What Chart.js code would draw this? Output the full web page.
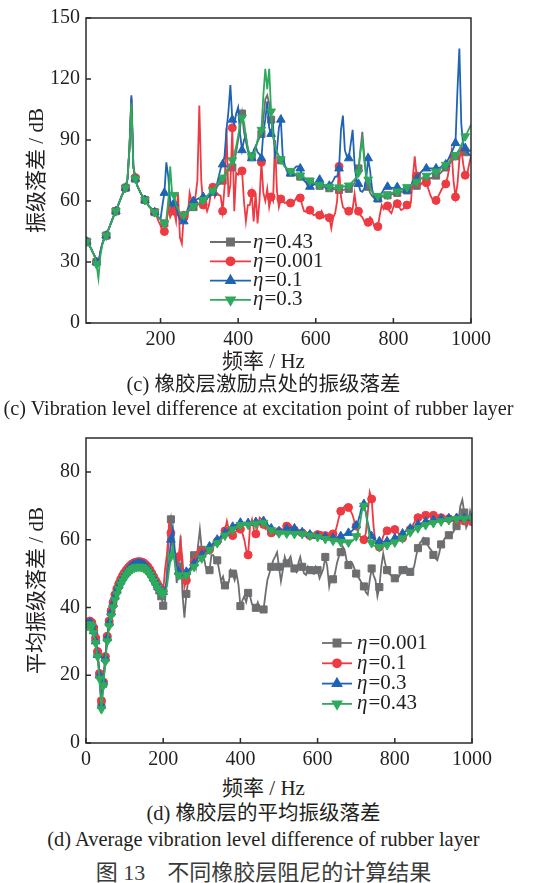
<!DOCTYPE html>
<html><head><meta charset="utf-8">
<script src="https://cdn.jsdelivr.net/npm/chart.js@4/dist/chart.umd.min.js"></script>
<style>
body{margin:0;background:#fff;width:551px;height:883px;position:relative;overflow:hidden;font-family:"Liberation Serif","Noto Sans CJK SC",serif;color:#231f20}
.box{position:absolute;left:0;width:551px}
.cap{position:absolute;left:-12px;width:551px;text-align:center;white-space:nowrap}
</style></head><body>
<div class="box" style="top:0;height:352px"><canvas id="c1"></canvas></div>
<div class="box" style="top:420px;height:352px"><canvas id="c2"></canvas></div>
<div class="cap" style="top:348px;font-size:21px;line-height:27px">频率 / Hz</div>
<div class="cap" style="top:371px;font-size:20.5px;line-height:27px">(c) 橡胶层激励点处的振级落差</div>
<div class="cap" style="top:395px;left:-17px;font-size:20.2px;line-height:26px">(c) Vibration level difference at excitation point of rubber layer</div>
<div class="cap" style="top:775px;font-size:21px;line-height:27px">频率 / Hz</div>
<div class="cap" style="top:800px;font-size:20.5px;line-height:27px">(d) 橡胶层的平均振级落差</div>
<div class="cap" style="top:826px;font-size:20.4px;line-height:26px">(d) Average vibration level difference of rubber layer</div>
<div class="cap" style="top:859px;font-size:22px;line-height:27px;color:#3a3a3a">图 13　不同橡胶层阻尼的计算结果</div>
<script>
// frequency grid (Hz), 5..1000
const freqHz = Array.from({length:200},(_,i)=>5*(i+1));

// tick labels
const topXTicks = [200,400,600,800,1000];
const topYTicks = [0,30,60,90,120,150];
const botXTicks = [0,200,400,600,800,1000];
const botYTicks = [0,20,40,60,80];

// (c) top chart series
const topEta043 = [
41,40,38.5,37,35,33,30,29,35,39,
41.5,43,45.5,48,50.5,53,55,57.5,60,62.5,
64.5,66.5,71,86,111,77,71,67.5,65.5,63.5,
62,60.5,59,57.5,56.5,55.5,54.5,53,52,51,
50,49,50,55,60,57,56,55,54,53,
52.5,52.5,53.5,54.5,55.5,56.5,57,57.5,58,58.5,
59,60,61,62,63,64,65,66,67,68,
69,70,72,74,75.5,76,76.5,79,84,90,
96,103,94,89,85,83,82,83,86,89,
91,93,100,110,112,108,100,92,87,84,
82,80,78.5,77,76,75,74,73.5,73,72.5,
72,72,71.5,71,70.5,70,69.5,69,68.5,68,
67.8,67.5,67.2,67,66.8,66.5,66.3,66,65.8,65.7,
65.6,65.5,65.5,65.5,65.6,65.8,66,66.5,67.5,69,
71,76,85,94,82,72,67,64,62.5,61.5,
61.3,61.2,61.5,62,62.3,62.5,62.8,63,63.2,63.5,
63.8,64,64.2,64.5,64.8,65,65.2,65.5,66,66.5,
67,67.5,68,68.5,69,69.5,70,70.5,71,71.5,
72,72.5,73,73.5,74.5,75.5,76.5,77.5,78.5,79.5,
80.5,82,83.5,84.5,84.5,84,84,84,84.5,85];
const topEta0001 = [
41,40,38.5,37,35,33,30,29.5,35,39,
41.5,43,45.5,48,50.5,53,55,57.5,60,62.5,
64.5,66.5,71,86,110,77,71.5,67.5,65.5,63.5,
62,60.5,59,57.5,56.5,55.5,54.5,52.5,50,48,
45,45,48,58,52,54,55,50,64,42,
39,53,50,52,64,60,59,62,70,107,
70,58,59,55,58,64,66.8,62,64,63,
62.5,55,67,96,62,68,96,55,74,73,
75,74.8,60,50,58,58,63.8,50,64,49,
60,79,64,60,66,57,62,60,90,65,
57,61,60,59,59.5,58.5,59,58.8,60,61.5,
62,61.5,58,55,54.7,55.5,55.5,54,53,53.5,
53,53,55,52,53,51.5,51.8,46.5,52,54,
60,77,62,57,56,55,55,55.5,56,63.5,
56,55,53,52,50,49.5,49.5,52,51,48,
47.5,47.4,53,58,56,57.5,57.6,55,54,57,
58.7,58.7,57,55.5,56,57,58,58.7,59,71,
82,72.4,67,68,69,69,69,66,63,61,
60.3,60.3,62,64,66,67,68.4,72,78,84.5,
70,62,68,80,86,78,72.7,73,78,82];
const topEta01 = [
41,40,38.5,37,35,33,30,28.5,35,39,
41.5,43,45.5,48,50.5,53,55,57.5,60,62.5,
64.5,66.5,71,86,112,77,71,67.5,65.5,63.5,
62,60.5,59,57.5,56.5,55.5,54.5,53,52,51,
58,64,79,72,60,57.5,59,57,53,51,
50,50,53,56,58,59.5,60,60.5,61,61.5,
62,62,62,61.5,62,63,64,65,68,72,
76,78,82,95,104,117,100,98,103,106,
93,85,90,92,85,82,81,85,87,84,
83,81,94,100,109,96,93,97,82,85,
96,100,82,78,75,74,73.5,74,76,77,
77,76,72,70,69,68,67,67.5,68,69,
70,70.5,69,68,67.5,67.5,67.5,68.5,70,72,
72,76,95,102,85,82,81,88,95,78,
70,68.4,65,64.5,66,71,81,75,66,62,
61,61,62,64,65.5,66.5,67,66.8,66.5,66.5,
66.5,66.8,66.2,66,65.8,65.2,65.2,66,67.5,69.5,
70.5,71,72.5,74,75,75.5,76,76,76,76,
76,76,76,76.5,77,77.5,78,80,82,84,
86,88.5,114,135,98,87,86,84,83,82];
const topEta03 = [
41,40,38.5,37,35,33,29,22,33,38.5,
41.5,43,45.5,48,50.5,53,55,57.5,60,62.5,
64.5,66.5,71,86,108,77,71,67.5,65.5,63.5,
62,60.5,59,57.5,56.5,55.5,54.5,53,52,51,
50,49,51,60,77,63,63,58,56,54.5,
53.5,53,54,55,56,57,57.5,58,58.5,59,
59.5,60.5,61.5,62.5,63.5,64.5,65,66.5,68,69.5,
70.5,71.5,73,75,76.5,78,80,83,87,92,
98,101,99,92,86,83,82,83,86,90,
93,95,112,125,115,125,104,92,87,84,
82,80.5,78.5,77,76,75,74.8,74,73.5,73,
72.5,72.5,72,71.5,71,70.5,70,69.5,69,68.5,
68.3,68,67.8,67.5,67.3,67,67,66.8,66.7,66.6,
66.6,66.7,66.8,67,67.2,67.4,67.6,68.5,69.5,70.5,
72,74,84,90,80,72,70.5,67,64.5,63,
62.5,62.5,62.6,62.7,62.7,62.8,63,63.5,64,64.3,
64.5,64.7,65,65.5,66,66.5,66.8,67.3,67.8,68.5,
69,69.5,70,70.8,71.5,72,72.4,72.8,73.3,73.7,
74,74.5,75,75.8,76.5,77.2,77.8,78.5,79.5,80.5,
81.5,82.5,84,85.5,87.5,89.5,91.8,93.5,95.5,97.5];

// (d) bottom chart series
const botEta0001 = [
35,35.5,35,33.5,30.5,26.5,20,12,17.5,25,
31,35.5,38.5,41,43.3,45,46.5,47.8,48.9,49.8,
50.6,51.3,51.9,52.4,52.7,52.9,53,53,52.9,52.6,
52.1,51.5,50.7,49.7,48.6,47.5,46.2,45,43.3,40.5,
42,52,62,66,60,55.4,47.2,52,61.2,43.8,
37,44,48,51,53,55.4,52,58,63,57,
55,52,50.3,51,55.4,55.4,53.5,53.9,51,47.7,
49.1,46.5,46.2,47.5,51,50,48,50,46.7,40.4,
42,43.3,41.6,44.3,43.3,41,40.4,39.9,41.5,39.6,
39.3,39.4,44,48.1,50,52,53.9,55,56.3,52,
47.7,51,54.9,53,54,55,52,51.5,50.5,53,
54.9,52,50,49.6,52,51,50.2,49.9,52,51,
48.6,50,51.5,54.9,52,46.2,49,48.3,50,53,
55,56.3,58,57,54,52.5,53.5,53,51.6,50,
49,48.1,47,46.2,44.5,43.8,48,51.5,49.5,48,
43.3,46,52,55.9,53,51,50,49.5,49,48.6,
48,49,50,51,51.5,52,51,50.5,51,52,
55,57.5,59,59.7,60.5,59.5,58.5,57.5,56.8,55.5,
54.5,53.9,56,58.6,59.5,60.5,61,61.3,62.1,62,
63,64,66,70,71.8,68,63.6,65,68.4,66];
const botEta01 = [
35.5,36,35.5,34,31,27,20.5,12.5,18,25.5,
31.5,36,39,41.5,43.8,45.5,47,48.3,49.4,50.3,
51.1,51.8,52.4,52.9,53.2,53.4,53.5,53.5,53.4,53.1,
52.6,52,51.2,50.2,49.1,48,47,46,45.3,45,
51.5,56,64.5,62,56,54,52,55,59.7,54,
46,48,49.5,51,52.5,53.5,55.5,57,57.4,56.5,
56,55.5,56,57,58,58.5,59,59.5,60,60.5,
61.5,62.6,65.5,63,62,61.2,62,62.5,63,63.1,
62,60,57,55.5,64,66,63,61.7,64,66.5,
66,64.5,63.1,63.5,62.5,62,61.7,62,62.2,62.4,
62.6,63,63.5,64,64.5,64.3,63.5,62.8,62.2,62,
62,62,62,61.8,61.5,61.2,61,60.8,61,61.5,
62,62.3,61.8,61.2,61,61,61.2,61.7,62.1,64,
66.5,68.4,69,69.8,70.3,69.5,68.5,67.5,65.5,64,
62,61,60.3,60,62,68,74,72,64,59,
57.5,57.8,59,61,62.2,62.6,62.6,62.5,62.8,63,
62.5,61.8,61,60.5,60.5,61,62,63,64,65,
66,66.5,67,67,67,67.2,67.3,67.4,67.4,67.2,
67,66.8,66.6,66.5,66.4,66.3,66.2,66.2,66.2,66.1,
66,65.9,65.8,65.7,65.6,65.5,65.4,65.3,65.3,65.3];
const botEta03 = [
35,35.5,35,33,30,26,20,11,18,25,
31,35.5,38.5,41,43.2,45,46.5,47.8,48.8,49.7,
50.5,51.2,51.8,52.3,52.6,52.8,52.9,52.9,52.8,52.5,
52,51.4,50.6,49.7,48.7,47.7,46.7,45.8,45.1,44.6,
45,48,53,60,63.5,57,52,50.5,49.5,49.5,
50,50.5,51,51.6,52.3,53,53.7,54.4,55,55.6,
56.2,56.8,57.4,58,58.5,59,59.5,60,60.5,61,
61.5,62,62.5,63,63.4,63.8,64.2,64.5,64.8,65,
65,65,64.9,64.9,64.9,65,65.1,65.2,65.4,65.5,
65.6,65.5,65.1,64.5,63.9,63.3,62.9,62.6,62.5,62.5,
62.6,62.8,63,63.2,63.4,63.5,63.5,63.3,63,62.7,
62.4,62.2,62,61.8,61.6,61.5,61.4,61.3,61.2,61.1,
61,61,60.9,60.8,60.7,60.6,60.5,60.5,60.5,60.6,
60.8,61,61.2,61.5,61.8,62,62.3,62.7,63.3,64.2,
65.5,67.5,70,70.5,68,65,62.5,61,60.2,59.8,
59.5,59.5,59.4,59.4,59.5,59.5,59.6,59.8,60,60.4,
60.7,61,61.4,61.8,62.2,62.6,63,63.3,63.6,63.9,
64.2,64.5,64.7,64.9,65.1,65.3,65.5,65.6,65.7,65.8,
65.9,66,66,66.1,66.1,66.2,66.2,66.3,66.3,66.4,
66.4,66.4,66.4,66.4,66.4,66.4,66.4,66.4,66.4,66.4];
const botEta043 = [
34.5,35,34.5,32.5,29.5,25.5,19,10,17,24,
30,34.5,37.5,40,42.3,44,45.5,46.8,47.8,48.8,
49.6,50.3,50.9,51.4,51.7,51.9,52,52,51.9,51.6,
51.1,50.5,49.7,48.8,47.8,46.8,45.8,45,44.4,44,
44,46.5,51,55,58,53,50.5,49.5,48.5,48.5,
49,49.5,50,50.6,51.3,52,52.7,53.4,54,54.5,
55.2,55.8,56.4,57,57.5,58,58.5,59,59.5,60,
60.6,61.2,61.7,62.2,62.6,63,63.4,63.8,64.1,64.3,
64.4,64.4,64.4,64.4,64.4,64.5,64.6,64.7,64.8,65,
65.1,65,64.6,64,63.4,62.8,62.4,62.1,62,61.9,
61.8,61.8,61.8,61.8,61.8,61.8,61.7,61.7,61.7,61.7,
61.7,61.7,61.6,61.5,61.3,61.2,61.1,61,60.9,60.8,
60.7,60.6,60.4,60.2,60.1,60,59.8,59.7,59.6,59.5,
59.4,59.3,59.3,59.2,59.2,59.2,59.3,59.6,60.2,61,
62.5,65,68.5,70,68,64,60.5,59,58.3,58,
57.8,57.8,57.9,58,58.2,58.4,58.6,58.8,59,59.2,
59.4,59.7,60,60.4,60.8,61.3,61.8,62.2,62.5,62.8,
63.1,63.4,63.7,63.9,64.1,64.3,64.5,64.6,64.7,64.9,
65,65.2,65.3,65.4,65.5,65.6,65.7,65.8,65.9,66,
66,66.1,66.1,66.2,66.2,66.2,66.3,66.3,66.3,66.3];

const INK = '#231f20';
const FONT = '"Liberation Serif","Noto Sans CJK SC",serif';
const GRAY = '#6d6e70', RED = '#ee3a43', BLUE = '#1f63b4', GREEN = '#2eaa5c';

function ds(label, vals, color, style, rot, size, order, markFn){
  return {
    label, data: freqHz.map((f,i)=>({x:f,y:vals[i]})),
    borderColor: color, backgroundColor: color, borderWidth: 1.8,
    pointStyle: style, rotation: rot, markerSize: size,
    pointRadius: c => markFn(c.dataIndex) ? size : 0,
    pointBorderWidth: 1, pointHoverRadius: 0, tension: 0, order
  };
}
const topMark = i => (freqHz[i]-10) % 25 === 0;
const botMark = i => freqHz[i] < 200 ? true : freqHz[i] % 20 === 0;

const framePlugin = {
  id:'frame',
  afterDatasetsDraw(chart){
    const {ctx, chartArea:a, scales} = chart;
    ctx.save();
    ctx.strokeStyle='#2b2b2b'; ctx.lineWidth=1.5;
    ctx.strokeRect(a.left, a.top, a.right-a.left, a.bottom-a.top);
    ctx.beginPath();
    scales.x.ticks.forEach(t=>{const p=scales.x.getPixelForValue(t.value); ctx.moveTo(p,a.bottom); ctx.lineTo(p,a.bottom-5);});
    scales.y.ticks.forEach(t=>{const p=scales.y.getPixelForValue(t.value); ctx.moveTo(a.left,p); ctx.lineTo(a.left+5,p);});
    ctx.stroke(); ctx.restore();
  }
};
const legendPlugin = {
  id:'customLegend',
  afterDraw(chart, args, o){
    const ctx = chart.ctx;
    chart.data.datasets.forEach((d,i)=>{
      const y = o.y0 + i*o.dy;
      ctx.save();
      ctx.strokeStyle = d.borderColor; ctx.fillStyle = d.backgroundColor; ctx.lineWidth = 1.8;
      ctx.beginPath(); ctx.moveTo(o.x0,y); ctx.lineTo(o.x1,y); ctx.stroke();
      Chart.helpers.drawPoint(ctx,{pointStyle:d.pointStyle,rotation:d.rotation||0,radius:d.markerSize,borderWidth:1},(o.x0+o.x1)/2,y);
      ctx.fillStyle = INK; ctx.textBaseline='middle'; ctx.textAlign='left';
      ctx.font = 'italic 21px "Liberation Serif"';
      ctx.fillText('η', o.tx, y);
      const w = ctx.measureText('η').width;
      ctx.font = '21px "Liberation Serif"';
      ctx.fillText(d.label.slice(1), o.tx + w + 1, y);
      ctx.restore();
    });
  }
};

function makeChart(id, datasets, xs, ys, pad, ytitle, legend){
  const tickFont = {family: FONT, size: 20};
  return new Chart(document.getElementById(id), {
    type:'line',
    data:{datasets},
    options:{
      responsive:true, maintainAspectRatio:false, animation:false, devicePixelRatio:1, events:[],
      layout:{padding:pad},
      plugins:{legend:{display:false}, tooltip:{enabled:false}, customLegend: legend},
      scales:{
        x:{type:'linear', min:xs.min, max:xs.max,
           afterBuildTicks:s=>{s.ticks = xs.ticks.map(v=>({value:v}));},
           afterFit:s=>{s.height = 29;},
           grid:{display:false, drawTicks:false}, border:{display:false},
           ticks:{font:tickFont, color:INK, padding:5, maxRotation:0, autoSkip:false, callback:v=>String(v)}},
        y:{type:'linear', min:ys.min, max:ys.max,
           afterBuildTicks:s=>{s.ticks = ys.ticks.map(v=>({value:v}));},
           afterFit:s=>{s.width = 86;},
           grid:{display:false, drawTicks:false}, border:{display:false},
           ticks:{font:tickFont, color:INK, padding:6, autoSkip:false, callback:v=>String(v)},
           title:{display:true, text:ytitle, color:INK, font:{family:FONT, size:21}, padding:{top:25,bottom:0}}}
      }
    },
    plugins:[framePlugin, legendPlugin]
  });
}

makeChart('c1', [
  ds('η=0.43', topEta043, GRAY, 'rect', 0, 5, 4, topMark),
  ds('η=0.001', topEta0001, RED, 'circle', 0, 4, 3, topMark),
  ds('η=0.1', topEta01, BLUE, 'triangle', 0, 5, 2, topMark),
  ds('η=0.3', topEta03, GREEN, 'triangle', 180, 5, 1, topMark)
], {min:8, max:1000, ticks:topXTicks}, {min:0, max:150, ticks:topYTicks},
 {top:13, right:80, left:0, bottom:0}, '振级落差 / dB',
 {x0:210, x1:251, tx:253, y0:242, dy:19.3});

makeChart('c2', [
  ds('η=0.001', botEta0001, GRAY, 'rect', 0, 5, 4, botMark),
  ds('η=0.1', botEta01, RED, 'circle', 0, 4, 3, botMark),
  ds('η=0.3', botEta03, BLUE, 'triangle', 0, 5, 2, botMark),
  ds('η=0.43', botEta043, GREEN, 'triangle', 180, 5, 1, botMark)
], {min:0, max:1000, ticks:botXTicks}, {min:0, max:90, ticks:botYTicks},
 {top:12, right:79, left:0, bottom:0}, '平均振级落差 / dB',
 {x0:322, x1:352, tx:357, y0:223, dy:20.3});
</script>
</body></html>
